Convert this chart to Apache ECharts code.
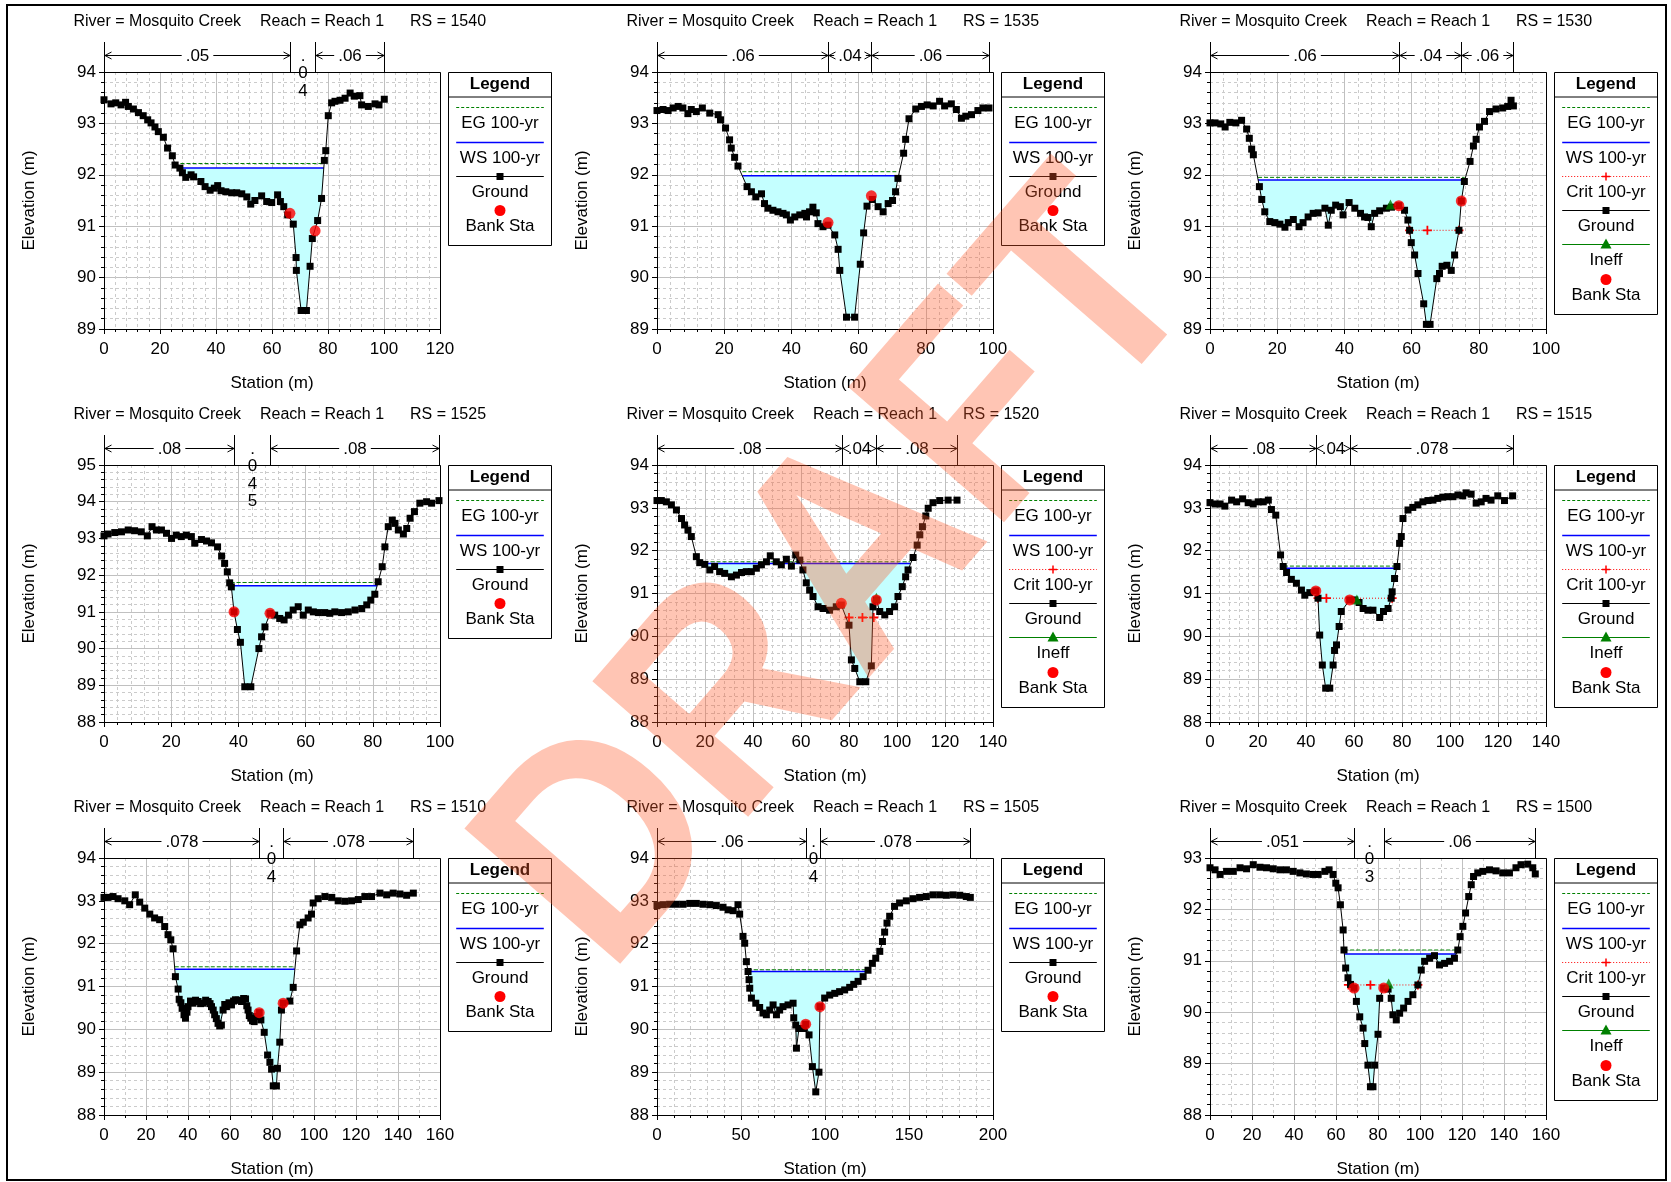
<!DOCTYPE html>
<html><head><meta charset="utf-8">
<script src="https://cdn.jsdelivr.net/npm/echarts@6/dist/echarts.min.js"></script>
<style>html,body{margin:0;padding:0;background:#fff}#c{width:1671px;height:1182px}</style>
</head><body><div id="c"></div>
<script>
// ---------------- DATA ----------------
const riverName = 'Mosquito Creek';
const reachName = 'Reach 1';
const stationNames = ['1540','1535','1530','1525','1520','1515','1510','1505','1500'];
const xMax = [120,100,100,100,140,140,160,200,160];
const xStep = [20,20,20,20,20,20,20,50,20];
const xMinorSplit = [5,5,5,5,5,5,2,5,2];
const yMin = [89,89,89,88,88,88,88,88,88];
const yMax = [94,94,94,95,94,94,94,94,93];

const ground1540 = [[0,93.46],[2.5,93.38],[4.2,93.40],[6.1,93.36],[7.7,93.41],[8.7,93.33],[10.5,93.28],[12.3,93.21],[14.0,93.15],[15.6,93.07],[16.8,93.01],[18.2,92.93],[19.4,92.84],[21.2,92.73],[22.7,92.52],[24.4,92.37],[25.4,92.19],[27.1,92.13],[28.0,92.04],[29.2,91.95],[31.1,92.00],[32.0,91.96],[34.6,91.87],[36.1,91.77],[37.9,91.70],[39.4,91.74],[40.6,91.79],[41.8,91.69],[43.5,91.67],[45.6,91.65],[47.4,91.65],[49.2,91.63],[51.0,91.57],[52.4,91.43],[53.9,91.50],[56.3,91.59],[58.1,91.48],[59.9,91.46],[62.0,91.61],[63.0,91.48],[64.2,91.38],[65.6,91.22],[67.6,91.04],[68.6,90.39],[68.7,90.14],[70.4,89.36],[72.3,89.36],[73.6,90.22],[74.4,90.76],[76.3,91.11],[77.7,91.54],[78.7,92.28],[79.2,92.47],[80.1,93.15],[81.3,93.40],[82.5,93.43],[84.3,93.45],[86.1,93.49],[87.9,93.59],[89.4,93.53],[91.4,93.54],[92.0,93.36],[94.4,93.33],[96.8,93.38],[98.2,93.36],[100.1,93.47]];
const ground1535 = [[0,93.25],[1.8,93.27],[3.3,93.25],[4.8,93.30],[6.3,93.33],[7.7,93.30],[9.2,93.19],[10.2,93.27],[11.7,93.23],[13.5,93.30],[15.7,93.20],[18.2,93.17],[18.9,93.07],[20.4,92.91],[21.6,92.68],[22.1,92.52],[23.1,92.34],[24.1,92.17],[26.8,91.77],[28.1,91.67],[29.4,91.57],[31.1,91.63],[32.0,91.44],[33.0,91.35],[34.5,91.31],[36.0,91.28],[37.5,91.25],[38.5,91.22],[39.7,91.12],[41.0,91.18],[42.5,91.22],[44.0,91.25],[44.5,91.18],[45.4,91.28],[46.4,91.37],[47.4,91.26],[47.9,91.05],[49.4,90.99],[50.9,91.02],[52.9,90.83],[53.9,90.55],[54.4,90.14],[56.4,89.23],[58.8,89.23],[60.5,90.26],[61.5,90.87],[62.5,91.39],[64.1,91.52],[65.8,91.38],[67.3,91.28],[68.8,91.44],[70.1,91.50],[71.0,91.67],[71.7,91.93],[73.4,92.42],[74.0,92.69],[75.0,93.09],[77.0,93.28],[78.7,93.33],[80.4,93.36],[82.2,93.34],[84.1,93.43],[85.6,93.34],[87.6,93.38],[89.1,93.27],[90.6,93.10],[91.9,93.14],[93.6,93.17],[95.5,93.25],[97.0,93.30],[98.8,93.30]];
const ground1530 = [[0,93.01],[1.5,93.01],[3.2,92.99],[4.5,92.93],[5.9,93.02],[7.7,93.01],[9.4,93.06],[10.9,92.89],[11.7,92.71],[12.4,92.50],[12.9,92.39],[14.7,91.77],[15.4,91.52],[16.3,91.28],[17.8,91.09],[19.3,91.07],[20.8,91.04],[22.3,90.98],[23.3,91.07],[24.8,91.13],[26.5,90.99],[27.7,91.07],[29.2,91.18],[30.7,91.25],[32.2,91.26],[34.2,91.35],[35.2,91.02],[36.1,91.31],[37.4,91.41],[38.8,91.38],[39.6,91.22],[41.4,91.46],[43.1,91.35],[44.8,91.25],[46.0,91.18],[47.0,91.17],[48.0,90.99],[49.0,91.25],[50.5,91.30],[52.5,91.35],[54.0,91.37],[56.2,91.40],[57.9,91.31],[58.9,91.12],[59.4,90.92],[59.9,90.68],[60.9,90.44],[61.9,90.08],[63.6,89.49],[64.4,89.09],[65.5,89.09],[67.5,89.98],[68.3,90.08],[69.1,90.22],[70.5,90.24],[71.8,90.14],[72.8,90.44],[74.1,90.92],[74.8,91.49],[75.7,91.87],[77.4,92.26],[78.4,92.56],[79.2,92.69],[80.2,92.93],[81.7,93.04],[83.2,93.23],[85.1,93.28],[87.1,93.30],[88.6,93.33],[89.6,93.45],[90.3,93.34]];
const ground1525 = [[0,93.07],[1.2,93.12],[3.2,93.16],[5.2,93.18],[7.2,93.23],[9.1,93.21],[11.1,93.18],[12.9,93.07],[14.3,93.32],[15.6,93.23],[17.1,93.23],[18.6,93.14],[20.1,93.00],[21.5,93.09],[23.0,93.05],[24.5,93.09],[26.0,93.05],[27.0,92.87],[29.0,92.97],[30.5,92.93],[32.0,92.88],[33.8,92.77],[35.0,92.52],[35.9,92.32],[36.7,92.09],[37.4,91.79],[37.9,91.68],[38.7,91.00],[39.7,90.52],[40.6,90.17],[41.9,88.96],[43.7,88.96],[46.1,90.00],[46.9,90.32],[47.9,90.59],[49.4,90.96],[50.8,90.91],[52.3,90.82],[53.6,90.78],[54.9,90.91],[56.3,91.05],[57.8,91.14],[59.3,90.91],[60.8,91.05],[62.3,91.00],[63.8,90.98],[65.7,90.98],[67.2,90.96],[68.7,91.00],[70.7,90.98],[72.7,91.00],[74.7,91.05],[76.7,91.09],[78.2,91.19],[79.4,91.32],[80.6,91.48],[81.6,91.82],[82.8,92.23],[83.6,92.77],[84.6,93.32],[85.8,93.50],[86.6,93.41],[87.6,93.23],[89.1,93.12],[90.1,93.27],[91.1,93.55],[92.4,93.73],[94.0,93.96],[96.0,94.00],[97.5,93.96],[99.7,94.03]];
const ground1520 = [[0,93.17],[1.8,93.17],[3.9,93.14],[6.0,93.07],[8.1,92.95],[10.2,92.75],[11.5,92.60],[12.9,92.48],[14.3,92.33],[16.4,91.86],[17.8,91.72],[19.9,91.68],[22.0,91.55],[24.0,91.63],[26.1,91.51],[28.2,91.47],[31.0,91.39],[33.1,91.43],[35.2,91.49],[37.2,91.51],[39.3,91.51],[41.4,91.59],[43.5,91.67],[45.6,91.74],[47.2,91.88],[49.7,91.74],[51.8,91.67],[53.9,91.80],[56.0,91.64],[57.8,91.90],[59.5,91.78],[60.8,91.55],[62.2,91.25],[63.6,91.08],[65.0,90.93],[67.1,90.69],[69.2,90.65],[71.9,90.61],[74.7,90.69],[76.8,90.73],[80.0,90.26],[81.0,89.45],[82.4,89.25],[84.5,88.94],[87.0,88.94],[89.3,89.31],[90.0,90.69],[91.4,90.85],[92.8,90.58],[94.9,90.50],[96.9,90.58],[99.0,90.69],[100.4,90.93],[102.2,91.16],[103.6,91.39],[104.6,91.55],[106.7,91.84],[108.4,92.13],[109.5,92.37],[110.6,92.56],[112.0,92.81],[113.0,92.99],[115.0,93.12],[117.8,93.17],[121.3,93.18],[125.0,93.18]];
const ground1515 = [[0,93.12],[2.1,93.09],[4.2,93.09],[6.2,93.04],[9.0,93.18],[11.1,93.14],[13.6,93.21],[15.9,93.12],[18.0,93.09],[20.1,93.14],[22.2,93.14],[24.3,93.18],[25.6,92.96],[27.4,92.83],[29.4,91.90],[30.5,91.63],[31.9,91.49],[33.9,91.33],[36.0,91.24],[38.1,91.08],[39.5,90.96],[41.6,91.02],[44.1,91.06],[45.0,90.89],[45.7,90.03],[46.8,89.33],[48.2,88.79],[49.9,88.79],[51.3,89.33],[51.9,89.67],[52.7,89.80],[53.8,90.23],[54.7,90.58],[58.2,90.85],[60.3,90.85],[62.1,90.79],[63.8,90.65],[65.8,90.61],[67.9,90.61],[70.7,90.44],[72.3,90.58],[74.2,90.65],[75.5,90.89],[75.9,91.04],[76.9,91.35],[77.9,91.63],[79.0,92.17],[79.7,92.33],[80.4,92.75],[82.5,92.95],[84.5,93.01],[86.6,93.07],[88.7,93.14],[90.8,93.17],[92.9,93.18],[94.9,93.22],[97.0,93.25],[99.1,93.26],[101.2,93.26],[103.3,93.30],[105.3,93.28],[106.7,93.35],[108.8,93.32],[110.9,93.11],[113.0,93.14],[115.0,93.22],[117.1,93.18],[119.9,93.28],[122.7,93.17],[126.1,93.28]];
const ground1510 = [[0,93.08],[1.9,93.08],[4.3,93.10],[6.7,93.05],[9.9,93.00],[12.2,92.91],[14.9,93.14],[17.0,92.97],[19.4,92.83],[21.8,92.69],[24.1,92.60],[26.5,92.56],[28.9,92.40],[30.5,92.21],[31.8,92.09],[32.9,91.88],[34.0,91.23],[35.3,90.94],[35.8,90.70],[36.6,90.62],[37.2,90.49],[38.1,90.34],[38.8,90.26],[39.5,90.40],[40.0,90.53],[41.2,90.66],[42.4,90.61],[43.6,90.68],[44.8,90.65],[46.0,90.60],[47.2,90.61],[48.4,90.68],[49.6,90.65],[50.5,90.60],[51.2,90.53],[52.0,90.45],[52.7,90.34],[53.5,90.25],[54.3,90.14],[55.1,90.08],[55.9,90.10],[56.7,90.45],[57.5,90.58],[58.3,90.53],[59.5,90.62],[60.7,90.57],[61.7,90.66],[62.6,90.69],[64.0,90.68],[65.5,90.65],[66.5,90.72],[67.4,90.71],[68.0,90.55],[68.6,90.45],[69.2,90.32],[69.9,90.26],[70.7,90.20],[71.5,90.18],[72.7,90.30],[73.9,90.39],[74.7,90.22],[76.3,89.93],[77.9,89.40],[79.0,89.23],[79.8,89.07],[80.6,88.68],[82.1,88.68],[82.6,89.09],[83.7,89.70],[84.5,90.45],[85.3,90.61],[88.5,90.66],[90.1,90.98],[91.7,91.83],[93.3,92.44],[94.9,92.50],[97.2,92.60],[98.8,92.69],[99.6,92.95],[102.0,93.05],[105.2,93.10],[108.4,93.08],[111.5,93.00],[114.7,92.99],[117.9,93.00],[121.1,93.03],[124.2,93.10],[127.4,93.10],[131.4,93.18],[134.6,93.14],[137.7,93.18],[140.9,93.16],[144.1,93.13],[147.3,93.18]];
const ground1505 = [[0,92.89],[3.6,92.91],[7.5,92.92],[11.5,92.92],[15.5,92.92],[19.5,92.94],[23.4,92.94],[27.4,92.92],[31.4,92.91],[35.3,92.89],[39.3,92.85],[42.3,92.79],[45.3,92.77],[48.2,92.91],[49.2,92.69],[51.2,92.17],[52.2,92.01],[53.2,91.58],[54.2,91.35],[54.8,91.16],[55.2,90.96],[56.2,90.73],[58.8,90.61],[61.1,90.51],[63.1,90.38],[65.1,90.34],[67.1,90.45],[69.1,90.57],[71.1,90.34],[73.0,90.45],[75.0,90.53],[78.0,90.57],[81.0,90.61],[81.4,90.27],[82.6,90.10],[83.0,89.56],[84.5,90.02],[87.3,90.02],[88.5,90.12],[90.5,89.87],[92.5,89.13],[94.5,88.54],[96.4,89.00],[97.0,90.53],[99.8,90.73],[102.8,90.80],[105.8,90.84],[108.7,90.88],[111.7,90.92],[114.7,90.98],[117.1,91.05],[119.7,91.12],[122.7,91.23],[125.6,91.38],[128.2,91.54],[130.2,91.66],[132.6,91.82],[134.2,92.05],[135.5,92.27],[136.9,92.48],[138.5,92.64],[141.4,92.87],[144.4,92.95],[148.4,93.00],[152.4,93.05],[156.3,93.08],[160.3,93.10],[164.3,93.14],[168.3,93.14],[172.2,93.13],[176.2,93.14],[180.2,93.13],[184.1,93.10],[186.5,93.08]];
const ground1500 = [[0,92.81],[2.4,92.77],[4.8,92.68],[7.9,92.74],[11.1,92.74],[14.3,92.81],[17.4,92.79],[20.6,92.87],[23.8,92.82],[26.9,92.81],[30.1,92.79],[33.3,92.77],[36.4,92.77],[39.6,92.74],[42.8,92.71],[45.9,92.69],[49.1,92.68],[51.5,92.68],[54.7,92.74],[56.7,92.77],[58.6,92.68],[59.9,92.51],[61.0,92.42],[62.1,92.09],[63.4,91.60],[63.8,91.21],[64.6,90.86],[65.7,90.67],[66.9,90.54],[68.6,90.47],[69.7,90.21],[71.3,89.91],[72.9,89.69],[73.7,89.39],[75.2,88.97],[76.4,88.55],[77.6,88.55],[78.4,88.97],[80.0,89.57],[80.8,90.27],[82.7,90.47],[84.8,90.45],[86.3,90.27],[87.1,89.95],[88.7,89.85],[90.3,89.98],[92.2,90.08],[94.3,90.21],[96.6,90.34],[99.0,90.53],[100.6,90.82],[102.2,90.99],[104.6,91.05],[106.9,91.10],[109.3,90.92],[111.7,90.95],[114.1,90.99],[116.4,91.05],[118.0,91.21],[119.1,91.47],[120.4,91.67],[121.7,91.93],[123.2,92.25],[124.4,92.48],[125.5,92.64],[127.5,92.71],[129.9,92.74],[133.1,92.77],[136.2,92.75],[139.4,92.71],[142.6,92.71],[145.7,92.81],[148.1,92.87],[151.3,92.88],[153.7,92.81],[154.9,92.69]];
const grounds = [ground1540, ground1535, ground1530, ground1525, ground1520, ground1515, ground1510, ground1505, ground1500];

const wsElev  = [92.13, 91.98, 91.90, 91.71, 91.70, 91.59, 91.40, 91.35, 91.13];
const egElev  = [92.22, 92.06, 91.95, 91.80, 91.74, 91.64, 91.46, 91.39, 91.21];
const wsLeft  = [27.3, 25.4, 14.3, 37.7, 17.3, 30.8, 33.7, 54.2, 63.9];
const wsRight = [78.5, 71.9, 75.8, 81.3, 105.5, 77.8, 90.9, 125.0, 117.2];
const bankPts = [[[66.4,91.25],[75.4,90.91]],[[50.9,91.07],[63.8,91.59]],[[56.2,91.40],[74.8,91.49]],[[38.7,91.00],[49.4,90.96]],[[76.8,90.77],[91.4,90.85]],[[44.1,91.06],[58.2,90.85]],[[73.9,90.39],[85.3,90.61]],[[88.5,90.12],[97.0,90.53]],[[68.6,90.47],[82.7,90.47]]];
const critElev = [null, null, 90.92, null, 90.44, 90.89, null, null, 90.53];
const critSta  = [[], [], [59.4,64.7,74.1], [], [80.0,85.6,90.3], [45.0,48.5,75.9], [], [], [65.9,76.4,99.0]];
const ineffPts = [[], [], [[53.7,91.42]], [], [[91.4,90.90]], [[61.2,90.86]], [], [], [[85.1,90.56]]];
const nBreaks = [[0,66.4,75.4,100.1],[0,50.9,63.8,98.8],[0,56.2,74.8,90.3],[0,38.7,49.4,99.7],[0,77.1,91.4,125.0],[0,44.1,58.2,126.1],[0,73.9,85.3,147.3],[0,88.5,97.0,186.5],[0,68.6,82.7,154.9]];
const nValues = [['.05','.04','.06'],['.06','.04','.06'],['.06','.04','.06'],['.08','.045','.08'],['.08','.04','.08'],['.08','.04','.078'],['.078','.04','.078'],['.06','.04','.078'],['.051','.03','.06']];

// ---------------- LAYOUT ----------------
const FONT = '"Liberation Sans", Arial, sans-serif';
const F17 = '17px ' + FONT, F16 = '16px ' + FONT, FB17 = 'bold 17px ' + FONT;
const COLX = [104, 657, 1210], ROWY = [72, 465, 858], PW = 336, PH = 257;
const WATER = '#c4ffff';

const mctx = document.createElement('canvas').getContext('2d');
function textW(t, f) { mctx.font = f; return mctx.measureText(t).width; }

function gAt(g, x) {
  for (let k = 0; k < g.length - 1; k++) {
    if (x >= g[k][0] && x <= g[k + 1][0]) {
      const t = (x - g[k][0]) / (g[k + 1][0] - g[k][0]);
      return g[k][1] + t * (g[k + 1][1] - g[k][1]);
    }
  }
  return g[g.length - 1][1];
}
function waterPoly(g, w, L, R) {
  const bottom = [[L, Math.min(gAt(g, L), w)]];
  for (let k = 0; k < g.length - 1; k++) {
    const [x1, y1] = g[k], [x2, y2] = g[k + 1];
    if (x2 <= L || x1 >= R) continue;
    if ((y1 - w) * (y2 - w) < 0) {
      const xc = x1 + (w - y1) * (x2 - x1) / (y2 - y1);
      if (xc > L && xc < R) bottom.push([xc, w]);
    }
    if (x2 > L && x2 < R) bottom.push([x2, Math.min(y2, w)]);
  }
  bottom.push([R, Math.min(gAt(g, R), w)]);
  return [[L, w]].concat(bottom, [[R, w]]);
}

function txt(x, y, s, font, extra, align) {
  const a = align || 'center';
  return Object.assign({ type: 'text', x: x, y: y, silent: true,
    style: { text: s, font: font, fill: '#000', align: a, verticalAlign: 'middle', textAlign: a, textVerticalAlign: 'middle' } }, extra || {});
}

const grids = [], xAxes = [], yAxes = [], series = [], gfx = [];

for (let i = 0; i < 9; i++) {
  const c = i % 3, r = Math.floor(i / 3);
  const L = COLX[c], T = ROWY[r];
  const g = grounds[i];
  grids.push({ left: L, top: T, width: PW, height: PH, containLabel: false, outerBoundsMode: 'none', show: false });
  xAxes.push({
    gridIndex: i, type: 'value', min: 0, max: xMax[i], interval: xStep[i],
    name: 'Station (m)', nameLocation: 'middle', nameGap: 46,
    nameTextStyle: { fontFamily: FONT, fontSize: 17, color: '#000' },
    axisLine: { show: true, onZero: false, lineStyle: { color: '#000', width: 1 } },
    axisTick: { show: true, length: 5, lineStyle: { color: '#000' } },
    minorTick: { show: true, splitNumber: xMinorSplit[i], length: 3, lineStyle: { color: '#000' } },
    splitLine: { show: true, lineStyle: { color: '#c0c0c0', width: 1 } },
    minorSplitLine: { show: true, lineStyle: { color: '#cbcbcb', width: 1, type: [3, 3] } },
    axisLabel: { fontFamily: FONT, fontSize: 17, color: '#000', margin: 12, showMinLabel: true, showMaxLabel: true }
  });
  yAxes.push({
    gridIndex: i, type: 'value', min: yMin[i], max: yMax[i], interval: 1,
    name: 'Elevation (m)', nameLocation: 'middle', nameGap: 66, nameRotate: 90,
    nameTextStyle: { fontFamily: FONT, fontSize: 17, color: '#000' },
    axisLine: { show: true, onZero: false, lineStyle: { color: '#000', width: 1 } },
    axisTick: { show: true, length: 5, lineStyle: { color: '#000' } },
    minorTick: { show: true, splitNumber: 5, length: 3, lineStyle: { color: '#000' } },
    splitLine: { show: true, lineStyle: { color: '#c0c0c0', width: 1 } },
    minorSplitLine: { show: true, lineStyle: { color: '#cbcbcb', width: 1, type: [3, 3] } },
    axisLabel: { fontFamily: FONT, fontSize: 17, color: '#000', margin: 8, showMinLabel: true, showMaxLabel: true }
  });

  const poly = waterPoly(g, wsElev[i], wsLeft[i], wsRight[i]);
  series.push({
    type: 'custom', xAxisIndex: i, yAxisIndex: i, z: 1, silent: true, animation: false,
    data: [[wsLeft[i], wsElev[i]]],
    renderItem: function (params, api) {
      return { type: 'polygon', shape: { points: poly.map(p => api.coord(p)) }, style: { fill: WATER, stroke: null } };
    }
  });
  series.push({ type: 'line', xAxisIndex: i, yAxisIndex: i, z: 3, silent: true, animation: false, symbol: 'none',
    data: [[wsLeft[i], egElev[i]], [wsRight[i], egElev[i]]],
    lineStyle: { color: '#008000', width: 1, type: [4, 2] } });
  series.push({ type: 'line', xAxisIndex: i, yAxisIndex: i, z: 3, silent: true, animation: false, symbol: 'none',
    data: [[wsLeft[i], wsElev[i]], [wsRight[i], wsElev[i]]],
    lineStyle: { color: '#0000ff', width: 1.5 } });
  if (critElev[i] != null) {
    series.push({ type: 'line', xAxisIndex: i, yAxisIndex: i, z: 4, silent: true, animation: false,
      data: critSta[i].map(x => [x, critElev[i]]),
      symbol: 'path://M4,0H6V4H10V6H6V10H4V6H0V4H4Z', symbolSize: 9,
      itemStyle: { color: '#ff0000', borderWidth: 0 },
      lineStyle: { color: '#ff0000', width: 1, type: [1, 2] } });
  }
  series.push({ type: 'line', xAxisIndex: i, yAxisIndex: i, z: 5, silent: true, animation: false,
    data: g, symbol: 'rect', symbolSize: 7, showSymbol: true,
    itemStyle: { color: '#000', borderWidth: 0 },
    lineStyle: { color: '#000', width: 1 } });
  if (ineffPts[i].length) {
    series.push({ type: 'scatter', xAxisIndex: i, yAxisIndex: i, z: 6, silent: true, animation: false,
      data: ineffPts[i], symbol: 'triangle', symbolSize: 10, itemStyle: { color: '#008000', borderWidth: 0 } });
  }
  series.push({ type: 'scatter', xAxisIndex: i, yAxisIndex: i, z: 7, silent: true, animation: false,
    data: bankPts[i], symbol: 'circle', symbolSize: 11, itemStyle: { color: '#ff0000', borderWidth: 0 } });

  // Manning's n bar above plot
  const brk = nBreaks[i], nv = nValues[i], ym = yMax[i];
  series.push({
    type: 'custom', xAxisIndex: i, yAxisIndex: i, z: 8, silent: true, animation: false, clip: false,
    data: [[0, ym]],
    renderItem: function (params, api) {
      const yTop = api.coord([0, ym])[1];
      const yA = yTop - 17, yL = yTop - 30;
      const xs = brk.map(s => Math.round(api.coord([s, ym])[0]) + 0.5);
      const ch = [];
      xs.forEach(x => ch.push({ type: 'line', shape: { x1: x, y1: yL, x2: x, y2: yTop }, style: { stroke: '#000', lineWidth: 1 } }));
      const ya = Math.round(yA) + 0.5;
      for (let j = 0; j < nv.length; j++) {
        const x1 = xs[j], x2 = xs[j + 1], w = x2 - x1, cx = (x1 + x2) / 2;
        const tw = textW(nv[j], F17);
        if (w < tw + 8) {
          nv[j].split('').forEach((chr, m) => ch.push(txt(cx, yA + 1 + m * 17.5, chr, F17)));
        } else {
          const gl = cx - tw / 2 - 4, gr = cx + tw / 2 + 4;
          if (gl > x1) ch.push({ type: 'line', shape: { x1: x1, y1: ya, x2: gl, y2: ya }, style: { stroke: '#000', lineWidth: 1 } });
          if (gr < x2) ch.push({ type: 'line', shape: { x1: gr, y1: ya, x2: x2, y2: ya }, style: { stroke: '#000', lineWidth: 1 } });
          ch.push(txt(cx, yA + 1, nv[j], F17));
          ch.push({ type: 'polyline', shape: { points: [[x1 + 7, ya - 3.5], [x1 + 0.5, ya], [x1 + 7, ya + 3.5]] }, style: { stroke: '#000', fill: null, lineWidth: 1 } });
          ch.push({ type: 'polyline', shape: { points: [[x2 - 7, ya - 3.5], [x2 - 0.5, ya], [x2 - 7, ya + 3.5]] }, style: { stroke: '#000', fill: null, lineWidth: 1 } });
        }
      }
      return { type: 'group', children: ch };
    }
  });

  // plot frame
  gfx.push({ type: 'rect', z: 50, silent: true, shape: { x: L + 0.5, y: T + 0.5, width: PW, height: PH }, style: { fill: null, stroke: '#000', lineWidth: 1 } });

  // title
  const ty = T - 50;
  gfx.push(txt(L - 30.5, ty, 'River = ' + riverName, F16, {}, 'left'));
  gfx.push(txt(L + 156, ty, 'Reach = ' + reachName, F16, {}, 'left'));
  gfx.push(txt(L + 306, ty, 'RS = ' + stationNames[i], F16, {}, 'left'));

  // legend
  const items = critElev[i] != null ? ['eg', 'ws', 'crit', 'ground', 'ineff', 'bank'] : ['eg', 'ws', 'ground', 'bank'];
  const labels = { eg: 'EG 100-yr', ws: 'WS 100-yr', crit: 'Crit 100-yr', ground: 'Ground', ineff: 'Ineff', bank: 'Bank Sta' };
  const bx = L + PW + 8.5, by = T + 0.5, bw = 103, hh = 24.5, step = 34.3;
  const bh = hh + 10.7 + step * (items.length - 1) + 16 + 19;
  gfx.push({ type: 'rect', z: 20, silent: true, shape: { x: bx, y: by, width: bw, height: Math.round(bh) }, style: { fill: '#fff', stroke: '#000', lineWidth: 1 } });
  gfx.push({ type: 'line', z: 21, silent: true, shape: { x1: bx, y1: by + hh, x2: bx + bw, y2: by + hh }, style: { stroke: '#000', lineWidth: 1 } });
  gfx.push(txt(bx + bw / 2, by + hh / 2, 'Legend', FB17, { z: 21 }));
  const lx1 = bx + 7.7, lx2 = bx + bw - 7.7, lcx = bx + bw / 2;
  items.forEach((it, k) => {
    const ly = Math.round(by + hh + 10.2 + step * k) + 0.5;
    const tyy = ly + 15.5;
    if (it === 'eg') gfx.push({ type: 'line', z: 21, silent: true, shape: { x1: lx1, y1: ly, x2: lx2, y2: ly }, style: { stroke: '#008000', lineWidth: 1, lineDash: [3, 2] } });
    if (it === 'ws') gfx.push({ type: 'line', z: 21, silent: true, shape: { x1: lx1, y1: ly, x2: lx2, y2: ly }, style: { stroke: '#0000ff', lineWidth: 1.5 } });
    if (it === 'crit') {
      gfx.push({ type: 'line', z: 21, silent: true, shape: { x1: lx1, y1: ly, x2: lx2, y2: ly }, style: { stroke: '#ff0000', lineWidth: 1, lineDash: [1, 2] } });
      gfx.push({ type: 'line', z: 21, silent: true, shape: { x1: lcx - 4, y1: ly, x2: lcx + 4, y2: ly }, style: { stroke: '#ff0000', lineWidth: 1.5 } });
      gfx.push({ type: 'line', z: 21, silent: true, shape: { x1: lcx, y1: ly - 4, x2: lcx, y2: ly + 4 }, style: { stroke: '#ff0000', lineWidth: 1.5 } });
    }
    if (it === 'ground') {
      gfx.push({ type: 'line', z: 21, silent: true, shape: { x1: lx1, y1: ly, x2: lx2, y2: ly }, style: { stroke: '#000', lineWidth: 1.2 } });
      gfx.push({ type: 'rect', z: 21, silent: true, shape: { x: lcx - 3.5, y: ly - 3.5, width: 7, height: 7 }, style: { fill: '#000' } });
    }
    if (it === 'ineff') {
      gfx.push({ type: 'line', z: 21, silent: true, shape: { x1: lx1, y1: ly, x2: lx2, y2: ly }, style: { stroke: '#008000', lineWidth: 1.2 } });
      gfx.push({ type: 'polygon', z: 21, silent: true, shape: { points: [[lcx, ly - 6], [lcx + 5.5, ly + 4], [lcx - 5.5, ly + 4]] }, style: { fill: '#008000' } });
    }
    if (it === 'bank') gfx.push({ type: 'circle', z: 21, silent: true, shape: { cx: lcx, cy: ly, r: 5.5 }, style: { fill: '#ff0000' } });
    gfx.push(txt(lcx, tyy, labels[it], F17, { z: 21 }));
  });
}

// outer frame
gfx.push({ type: 'rect', z: 60, silent: true, shape: { x: 7, y: 5, width: 1659, height: 1175 }, style: { fill: null, stroke: '#000', lineWidth: 2 } });
// watermark
gfx.push({ type: 'text', z: 100, silent: true, x: 846, y: 578, rotation: 49 * Math.PI / 180, scaleX: 0.9, scaleY: 1,
  style: { text: 'DRAFT', font: 'bold 300px ' + FONT, fill: 'rgba(255,90,40,0.35)', align: 'center', verticalAlign: 'middle', textAlign: 'center', textVerticalAlign: 'middle' } });

const chart = echarts.init(document.getElementById('c'), null, { renderer: 'canvas', width: 1671, height: 1182 });
chart.setOption({
  animation: false,
  backgroundColor: '#fff',
  grid: grids, xAxis: xAxes, yAxis: yAxes, series: series,
  graphic: { elements: gfx }
});
</script></body></html>
